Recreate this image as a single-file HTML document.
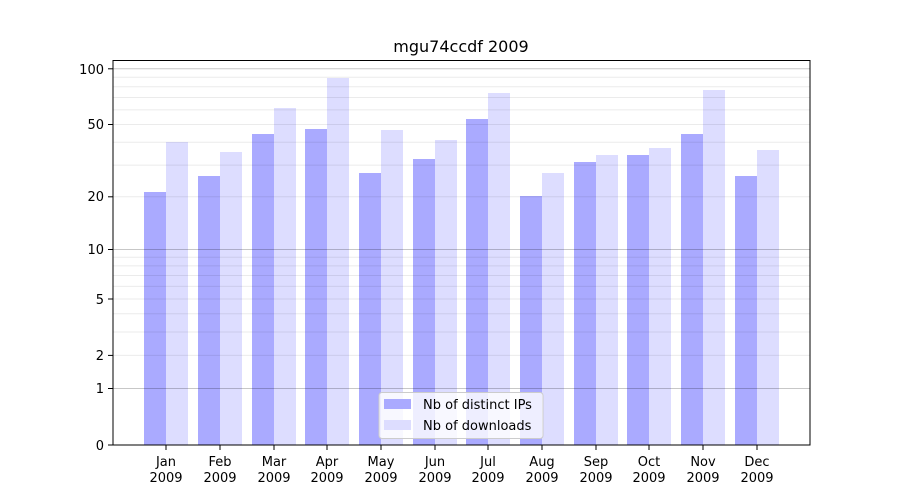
<!DOCTYPE html><html><head><style>body{margin:0;background:#fff}svg{display:block;font-family:"DejaVu Sans","Liberation Sans",sans-serif}</style></head><body>
<svg width="900" height="500" viewBox="0 0 900 500">
<rect width="900" height="500" fill="#fff"/>
<text x="461" y="52" font-size="16" text-anchor="middle">mgu74ccdf 2009</text>
<g id="bars">
<!-- dark -->
<g fill="#aaaaff">
<rect x="144" y="192" width="22" height="253"/>
<rect x="198" y="176" width="22" height="269"/>
<rect x="252" y="134" width="22" height="311"/>
<rect x="305" y="129" width="22" height="316"/>
<rect x="359" y="173" width="22" height="272"/>
<rect x="413" y="159" width="22" height="286"/>
<rect x="466" y="119" width="22" height="326"/>
<rect x="520" y="196" width="22" height="249"/>
<rect x="574" y="162" width="22" height="283"/>
<rect x="627" y="155" width="22" height="290"/>
<rect x="681" y="134" width="22" height="311"/>
<rect x="735" y="176" width="22" height="269"/>
</g>
<g fill="#ddddff">
<rect x="166" y="142" width="22" height="303"/>
<rect x="220" y="152" width="22" height="293"/>
<rect x="274" y="108" width="22" height="337"/>
<rect x="327" y="78" width="22" height="367"/>
<rect x="381" y="130" width="22" height="315"/>
<rect x="435" y="140" width="22" height="305"/>
<rect x="488" y="93" width="22" height="352"/>
<rect x="542" y="173" width="22" height="272"/>
<rect x="596" y="155" width="22" height="290"/>
<rect x="649" y="148" width="22" height="297"/>
<rect x="703" y="90" width="22" height="355"/>
<rect x="757" y="150" width="22" height="295"/>
</g>
</g>
<g stroke="#000" stroke-opacity="0.08" stroke-width="1">
<line x1="113" x2="810" y1="355.4" y2="355.4"/><line x1="113" x2="810" y1="332" y2="332"/><line x1="113" x2="810" y1="313.8" y2="313.8"/><line x1="113" x2="810" y1="299" y2="299"/><line x1="113" x2="810" y1="286.4" y2="286.4"/><line x1="113" x2="810" y1="275.5" y2="275.5"/><line x1="113" x2="810" y1="265.9" y2="265.9"/><line x1="113" x2="810" y1="257.3" y2="257.3"/>
<line x1="113" x2="810" y1="196.8" y2="196.8"/><line x1="113" x2="810" y1="165.1" y2="165.1"/><line x1="113" x2="810" y1="142.3" y2="142.3"/><line x1="113" x2="810" y1="124.5" y2="124.5"/><line x1="113" x2="810" y1="109.9" y2="109.9"/><line x1="113" x2="810" y1="97.5" y2="97.5"/><line x1="113" x2="810" y1="86.8" y2="86.8"/><line x1="113" x2="810" y1="77.3" y2="77.3"/>
</g>
<g stroke="#000" stroke-opacity="0.22" stroke-width="1">
<line x1="113" x2="810" y1="388.5" y2="388.5"/><line x1="113" x2="810" y1="249.5" y2="249.5"/><line x1="113" x2="810" y1="68.8" y2="68.8"/>
</g>
<rect x="113" y="60.5" width="697" height="384.5" fill="none" stroke="#000" stroke-width="1"/>
<g stroke="#000" stroke-width="1">
<line x1="108" x2="113" y1="445" y2="445"/><line x1="108" x2="113" y1="388.5" y2="388.5"/><line x1="108" x2="113" y1="355.4" y2="355.4"/><line x1="108" x2="113" y1="299" y2="299"/><line x1="108" x2="113" y1="249.5" y2="249.5"/><line x1="108" x2="113" y1="196.8" y2="196.8"/><line x1="108" x2="113" y1="124.5" y2="124.5"/><line x1="108" x2="113" y1="68.8" y2="68.8"/>
</g>
<g font-size="13" text-anchor="end">
<text x="104" y="450">0</text><text x="104" y="393">1</text><text x="104" y="360">2</text><text x="104" y="304">5</text><text x="104" y="254">10</text><text x="104" y="201">20</text><text x="104" y="129">50</text><text x="104" y="74">100</text>
</g>
<g stroke="#000">
<line x1="166" x2="166" y1="445" y2="450"/><line x1="220" x2="220" y1="445" y2="450"/><line x1="274" x2="274" y1="445" y2="450"/><line x1="327" x2="327" y1="445" y2="450"/><line x1="381" x2="381" y1="445" y2="450"/><line x1="435" x2="435" y1="445" y2="450"/><line x1="488" x2="488" y1="445" y2="450"/><line x1="542" x2="542" y1="445" y2="450"/><line x1="596" x2="596" y1="445" y2="450"/><line x1="649" x2="649" y1="445" y2="450"/><line x1="703" x2="703" y1="445" y2="450"/><line x1="757" x2="757" y1="445" y2="450"/>
</g>
<g font-size="13" text-anchor="middle">
<text x="166" y="466">Jan</text><text x="166" y="482">2009</text>
<text x="220" y="466">Feb</text><text x="220" y="482">2009</text>
<text x="274" y="466">Mar</text><text x="274" y="482">2009</text>
<text x="327" y="466">Apr</text><text x="327" y="482">2009</text>
<text x="381" y="466">May</text><text x="381" y="482">2009</text>
<text x="435" y="466">Jun</text><text x="435" y="482">2009</text>
<text x="488" y="466">Jul</text><text x="488" y="482">2009</text>
<text x="542" y="466">Aug</text><text x="542" y="482">2009</text>
<text x="596" y="466">Sep</text><text x="596" y="482">2009</text>
<text x="649" y="466">Oct</text><text x="649" y="482">2009</text>
<text x="703" y="466">Nov</text><text x="703" y="482">2009</text>
<text x="757" y="466">Dec</text><text x="757" y="482">2009</text>
</g>
<rect x="379" y="392.5" width="164" height="46" rx="3" fill="#fff" fill-opacity="0.8" stroke="#ccc"/>
<rect x="384" y="399" width="27" height="10" fill="#aaaaff"/>
<rect x="384" y="420" width="27" height="10" fill="#ddddff"/>
<g font-size="13"><text x="423" y="409">Nb of distinct IPs</text><text x="423" y="430">Nb of downloads</text></g>
</svg>
</body></html>
